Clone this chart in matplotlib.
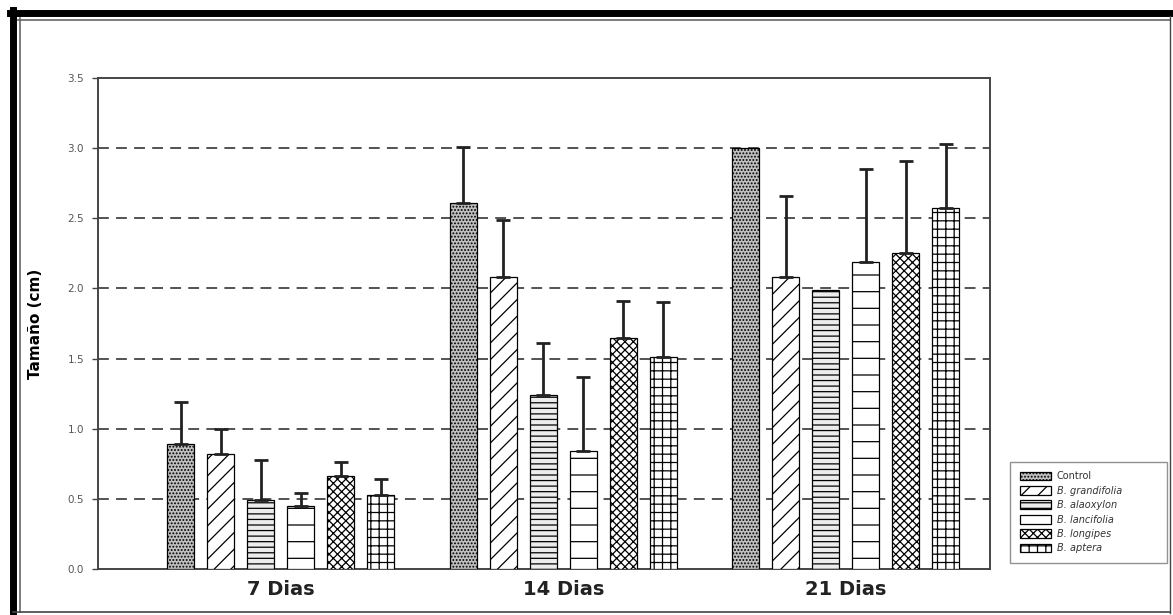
import matplotlib
matplotlib.use("Agg")
import matplotlib.pyplot as plt
import numpy as np
from matplotlib.lines import Line2D

groups = ["7 Dias", "14 Dias", "21 Dias"]
series = ["Control", "B. grandifolia", "B. alaoxylon", "B. lancifolia", "B. longipes", "B. aptera"]

control = [0.89, 2.61, 3.00]
grandifolia = [0.82, 2.08, 2.08]
alaoxylon = [0.49, 1.24, 1.99]
lancifolia = [0.45, 0.84, 2.19]
longipes = [0.66, 1.65, 2.25]
aptera = [0.53, 1.51, 2.57]

err_control = [0.30, 0.40, 0.0]
err_grandifolia = [0.18, 0.41, 0.58]
err_alaoxylon = [0.29, 0.37, 0.0]
err_lancifolia = [0.09, 0.53, 0.66]
err_longipes = [0.10, 0.26, 0.66]
err_aptera = [0.11, 0.39, 0.46]

yticks = [0.0, 0.5, 1.0, 1.5, 2.0, 2.5, 3.0, 3.5]

means = [control, grandifolia, alaoxylon, lancifolia, longipes, aptera]
errs = [err_control, err_grandifolia, err_alaoxylon, err_lancifolia, err_longipes, err_aptera]

styles = [
    dict(facecolor="#c0c0c0", hatch="....."),
    dict(facecolor="white", hatch="//"),
    dict(facecolor="#ececec", hatch="---"),
    dict(facecolor="white", hatch="-"),
    dict(facecolor="white", hatch="xxxx"),
    dict(facecolor="white", hatch="++"),
]

plt.rcParams["hatch.linewidth"] = 0.9
plt.rcParams["hatch.color"] = "black"

fig = plt.figure(figsize=(11.73, 6.15), dpi=100)
ax = fig.add_axes([98/1173, 1-569/615, (990-98)/1173, (569-78)/615])

x = np.arange(len(groups))
step = 40/282.5
width = 27/282.5
offsets = (np.arange(len(series)) - 2.5) * step

for i, (m, e, st) in enumerate(zip(means, errs, styles)):
    pos = x + offsets[i]
    ax.bar(pos, m, width=width, edgecolor="black", linewidth=0.9,
           label=series[i], zorder=3, **st)
    m_arr = np.array(m)
    e_arr = np.array(e)
    mask = e_arr > 0
    ax.errorbar(pos[mask], m_arr[mask], yerr=[np.zeros(mask.sum()), e_arr[mask]],
                fmt="none", ecolor="#222222", elinewidth=2, capsize=5, capthick=2, zorder=4)

ax.set_xlim(-0.646, 2.51)
ax.set_ylim(0, 3.5)
ax.set_yticks(yticks)
ax.set_yticklabels([f"{t:.1f}" for t in yticks], fontsize=7.5, color="#555555")
ax.tick_params(axis="y", length=4, width=1, color="#444444", pad=6)
ax.set_xticks(x)
ax.set_xticklabels(groups, fontsize=14, fontweight="bold", color="#222222")
ax.tick_params(axis="x", length=0, pad=8)

for yv in yticks[1:-1]:
    ax.axhline(yv, color="#444444", linestyle=(0, (6, 4)), linewidth=1.3, zorder=1)

for sp in ax.spines.values():
    sp.set_color("#444444")
    sp.set_linewidth(1.4)

ax.set_ylabel("Tamaño (cm)", fontsize=11, fontweight="bold")
ax.yaxis.set_label_coords((43-98)/892, 0.5)

leg = ax.legend(loc="lower left", bbox_to_anchor=(1010/1173, 1-563/615, (1167-1010)/1173, (563-430)/615),
                bbox_transform=fig.transFigure, mode="expand", fontsize=7,
                frameon=True, fancybox=False, edgecolor="#777777", handlelength=3.2,
                handleheight=1.0, labelspacing=0.45, borderpad=1.0, borderaxespad=0,
                handletextpad=0.6)
for i, t in enumerate(leg.get_texts()):
    if i > 0:
        t.set_style("italic")
    t.set_color("#333333")
leg.get_frame().set_linewidth(1.0)

# outer frame
def fl(xs, ys, lw, c="black"):
    fig.add_artist(Line2D([xv/1173 for xv in xs], [1-yv/615 for yv in ys],
                          transform=fig.transFigure, color=c, linewidth=lw))

fl([13, 13], [10, 615], 5)
fl([10, 1173], [13, 13], 5)
fl([20, 20], [18, 612], 1.2, "#666666")
fl([18, 1170], [20, 20], 1.2, "#666666")
fl([1170, 1170], [16, 613], 1.0, "#444444")
fl([13, 1170], [612, 612], 1.2, "#444444")

fig.savefig("out.png", dpi=100)
